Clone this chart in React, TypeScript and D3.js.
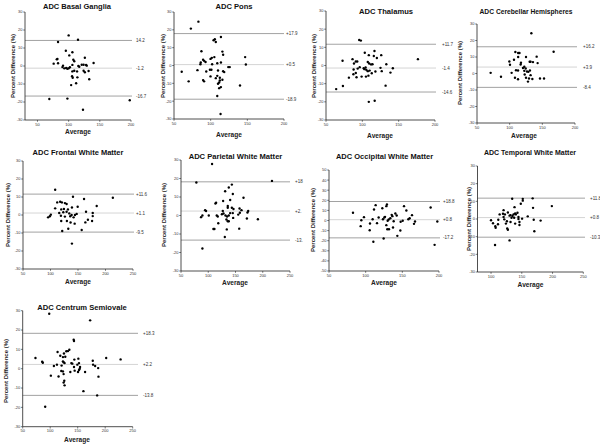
import React from "react";
import * as d3 from "d3";

// ---------- DATA ----------
const basalAvg = [100, 115, 83, 95.5, 106, 101, 81, 82, 126, 107.5, 109, 76, 83, 140, 121, 124, 128, 129, 91, 90, 93, 96, 98, 100, 102, 106, 115.5, 117, 109, 106, 113.5, 124, 126, 132, 105.5, 106.5, 114, 133, 112, 104, 69, 98, 198, 123];
const basalDiff = [17, 14.6, 13.3, 8.5, 7.6, 5.9, 3.7, 3.9, 4.6, 3.5, 2.6, 1.3, 1.5, 1.7, 0.7, 0.7, 0.6, 0.2, 0.2, -0.6, -1.3, -1.1, -1.5, -1.3, -0.7, 0.6, 0, -0.4, -2.6, -3, -3, -2.6, -3.5, -2.8, -5.7, -6.5, -6.3, -7.4, -9.6, -10.6, -18.3, -18.1, -19, -24.3];
const basalLines = [14.2, -1.2, -16.7];
const basalLabels = ["14.2", "-1.2", "-16.7"];

const ponsAvg = [83.3, 73, 105.7, 104, 107, 114, 87.4, 116, 117, 101.6, 99.8, 105, 89.7, 91, 93, 86.5, 86, 102, 109, 114, 147, 148, 124, 126, 118.5, 117, 110, 101, 99, 82, 94, 60.5, 99.8, 107, 112.5, 109, 89.7, 91, 70, 111.6, 110, 111.6, 114, 140, 109, 113.5, 116, 112.5];
const ponsDiff = [24.6, 20.7, 14.7, 14.2, 13.2, 16, 8, 7.8, 6, 4.3, 3.7, 4.7, 3.2, 2.6, 2, 1.7, 0.7, 0.7, 1.3, 1.7, 4.7, 0.6, -0.9, -0.9, -3.7, -3.2, -2.8, -2.4, -2.4, -2.6, -3.4, -3.5, -6.1, -7.1, -6.9, -5.8, -8.2, -8.9, -8.9, -9.5, -10.2, -12.7, -12.1, -11.2, -17.1, -27.2, -8, -8.4];
const ponsLines = [17.9, 0.5, -18.9];
const ponsLabels = ["+17.9", "+0.5", "-18.9"];

const thalAvg = [95.7, 98, 103.4, 116.7, 108.9, 115.8, 126, 120, 72.8, 86.5, 91, 93, 107.5, 109.4, 112, 114, 133, 176.5, 88.5, 88, 93.6, 96.4, 101.9, 103, 105.5, 104.5, 107.5, 110, 113, 118, 125, 142, 126.7, 138.7, 87.7, 91, 81.5, 92, 99, 105, 108.4, 73.3, 64, 132, 108.9, 117];
const thalDiff = [14, 13.7, 7, 8, 5.7, 5.2, 5.7, 4.1, 2.6, 3.5, 2.2, 2.2, 1.9, 1.1, 0.6, 0.7, 0.7, 3.5, 1.1, -2.2, -1.7, -0.9, -1.5, -2, -2.4, -1.1, -3.1, -2.8, -4.3, -3.3, -1.3, -1.5, -3.1, -3.9, -4.8, -4.1, -6.7, -6.5, -6.1, -6.1, -5.6, -11.3, -13, -11.1, -20, -19.4];
const thalLines = [11.7, -1.4, -14.6];
const thalLabels = ["+11.7", "-1.4", "-14.6"];

const cereAvg = [133.2, 167.3, 108.7, 113, 115, 125, 141.3, 106.6, 113, 99.5, 100.5, 117.3, 116.8, 130.6, 132, 135.7, 142.8, 122.4, 120.4, 124.5, 112.8, 109.7, 131, 126.5, 122.4, 128.6, 70.9, 103, 123, 132, 86.7, 108.1, 112.8, 125, 129.6, 134.7, 146.4, 152.6, 128];
const cereDiff = [24.4, 13.2, 13, 12.4, 12.4, 10, 10.2, 8.3, 10, 7.3, 5.3, 6.5, 5.5, 7.1, 7.1, 6.9, 6.3, 4.1, 3.3, 3, 1.8, 2, 1.8, 1.2, 1.6, 1, 0.4, 0.4, -0.6, -1, -2, -2.6, -3.5, -2.6, -3, -3.3, -3, -3, -4.9];
const cereLines = [16.2, 3.9, -8.4];
const cereLabels = ["+16.2", "+3.9", "-8.4"];

const frontAvg = [108.5, 213.4, 140.9, 161, 184, 112.2, 117.6, 120.7, 126.2, 129.3, 108.5, 119.5, 124.4, 131.7, 139, 149.4, 115.9, 123.2, 129.3, 134.1, 138.4, 144.5, 147.6, 164.6, 176.8, 118.9, 126.2, 135.9, 142, 98.8, 100.6, 95.6, 176.8, 119.5, 129.8, 136.5, 143.9, 168, 175.6, 163.4, 132.3, 156.7, 121.3, 139];
const frontDiff = [14, 9.6, 10.1, 8.9, 5, 7, 7.4, 7, 6.6, 6.1, 3.7, 3.1, 3.3, 3.1, 4.2, 4.6, 1.1, 1.5, 1.8, 0.9, 0, 0, 0.6, 1.8, 1.1, -0.4, -0.9, -0.7, -1.3, -0.7, 0.2, -1.3, -0.6, -3.3, -3.3, -4.2, -4.8, -2.6, -3.3, -4.1, -7.6, -8.3, -8.9, -15.9];
const frontLines = [11.6, 1.1, -9.5];
const frontLabels = ["+11.6", "+1.1", "-9.5"];

const parAvg = [107, 78.2, 216.9, 143.3, 137.7, 131, 145.1, 164.7, 140.2, 113.2, 114.4, 127.3, 135.8, 135.8, 143.3, 146.3, 157.4, 161, 173.3, 172, 158, 155, 94.2, 96, 126.7, 128, 125, 140.2, 145, 101, 115.6, 117.5, 131.6, 134.6, 137.7, 89.3, 86.8, 145.7, 118.4, 170.9, 191.1, 135.8, 137.7, 133.4, 109.5, 111.3, 156.8, 134, 130.4, 89.3];
const parDiff = [27.8, 17.8, 18.7, 16.7, 15.1, 13.1, 11.6, 9.6, 8.4, 6.5, 6.9, 7.8, 5.1, 4.2, 4.2, 3.5, 3.8, 2.9, 2.4, 1.6, 1.5, 0.5, 2.9, 2.4, 2.4, 1.1, 0.7, 1.3, 1.3, 0, 0, -0.5, 0, -0.5, 0, 0, -0.9, -1.3, -4.2, -1.6, -2, -3.1, -3.1, -2.2, -7.3, -7.3, -7.1, -7.5, -11.6, -17.8];
const parLines = [18.2, 2.4, -13.3];
const parLabels = ["+18", "+2.", "-13."];

const occAvg = [82.7, 113.6, 128.2, 129, 111.4, 122.7, 152.3, 155.5, 188.6, 140.5, 135.5, 136.4, 142.3, 160, 158.2, 163.2, 133.6, 126.4, 125.5, 117.7, 97.7, 131.4, 123.6, 130, 138.2, 94.1, 109.5, 150.5, 167.3, 165.9, 197.7, 115.5, 105.9, 93.2, 128.2, 137.3, 131.8, 129.5, 147.3, 105.5, 143.2, 124.5, 110.5, 194, 147.7];
const occDiff = [7.6, 15.2, 14.2, 15.8, 10.9, 12.2, 14.2, 9.9, 12.9, 6.9, 5.6, 4.3, 5, 2.3, 1.3, 5.3, 2.3, 3.6, 3, 3, 3.3, 1, 1.3, -0.3, -0.7, 0.3, 1.3, -0.3, -1, -3.3, -1, -2.6, -3, -5.6, -4.6, -6.9, -8.6, -8.6, -9.9, -9.6, -15.2, -17.8, -21.1, -24.1, -1.3];
const occLines = [18.8, 0.8, -17.2];
const occLabels = ["+18.8", "+0.8", "-17.2"];

const tempAvg = [106.5, 130.1, 100, 103.2, 111.8, 107, 107.5, 111.3, 114, 119.4, 120.4, 122.6, 120.4, 121.5, 125.8, 126.3, 127.4, 124.2, 131.7, 127.4, 130.1, 131.7, 134.9, 133.3, 137.6, 136.6, 139.2, 140.3, 143, 144.6, 144.6, 139.2, 146.2, 146.2, 138.2, 134.4, 150.5, 148.4, 151.6, 151.6, 159.7, 167.7, 168.3, 169.4, 170.4, 180.6, 198.9];
const tempDiff = [-14.7, -12.1, -0.7, -2.4, -0.4, -4.1, -5, -3, 2.6, 3, 5, 2.6, 1.1, -0.2, -1.3, -5.4, -6.1, -2.6, -1.7, 3.7, 1.9, 2.2, 1.7, 0.7, 0.7, 2.6, 3.2, 2.6, 3.5, 1.1, 0, -2.6, -1.7, -3.4, 6.7, 11.5, 0.2, 8.6, 11.4, 10.4, 1.5, 11.7, 6.3, -0.4, -6.9, -0.9, 7.3];
const tempLines = [11.8, 0.8, -10.3];
const tempLabels = ["+11.8", "+0.8", "-10.3"];

const centAvg = [98.2, 172.6, 142.7, 143.3, 134.8, 132.3, 129.3, 113.4, 125, 118.3, 127.4, 123.2, 73.2, 85.4, 86.6, 123.2, 124.4, 126.2, 138.4, 151.2, 152.4, 149.4, 140.2, 143.9, 177.4, 178, 181.7, 187.2, 201.8, 228, 106.7, 112.2, 120.7, 143.3, 154.3, 153.7, 152.4, 150.6, 144.5, 136.6, 123.2, 120.1, 124.4, 163.4, 187.8, 101.2, 115.2, 125.6, 124.4, 126.2, 160.4, 185.4, 90.9];
const centDiff = [28.4, 25, 15, 14.3, 9.8, 9.1, 9, 8.6, 7.9, 6.7, 6.2, 6, 5.5, 3.6, 3.1, 3.8, 3.3, 2.9, 2.9, 5.2, 2.9, 2.1, 2.6, 4.7, 4.1, 2.1, 1.4, 0.3, 5.5, 4.8, 1.4, 2.1, 1.6, 0.9, 0.9, 0, -0.7, -1.7, -1, -1.7, -1.4, -1.2, -2.8, -1.7, -4.1, -3.6, -4, -6.2, -7.2, -8.6, -11.6, -13.8, -19.7];
const centLines = [18.3, 2.2, -13.8];
const centLabels = ["+18.3", "+2.2", "-13.8"];

const ticksX4 = [50, 100, 150, 200];
const ticksX5 = [50, 100, 150, 200, 250];
const ticksTemp = [100, 150, 200, 250];
const ticksY30 = [30, 20, 10, 0, -10, -20, -30];
const ticksY50 = [50, 40, 30, 20, 10, 0, -10, -20, -30, -40, -50];

// ---------- LAYOUT ----------
type P = {
  title: string; tx: number; ty: number; ts: number;
  xr: [number, number]; xd: [number, number]; xt: number[];
  yr: [number, number]; yd: [number, number]; yt: number[];
  lines: number[]; labels: string[]; lx: number; lend: number;
  ylx: number; yly: number; axY: number; axX: number;
  avg: number[]; diff: number[];
};

const panels: P[] = [
  { title: "ADC Basal Ganglia", tx: 77, ty: 8.5, ts: 7.5, xr: [25, 131], xd: [30, 200], xt: ticksX4, yr: [12, 120], yd: [30, -30], yt: ticksY30, lines: basalLines, labels: basalLabels, lx: 136, lend: 132, ylx: 13, yly: 66, axX: 78, axY: 134, avg: basalAvg, diff: basalDiff },
  { title: "ADC Pons", tx: 234, ty: 8.5, ts: 7.6, xr: [174, 284], xd: [50, 200], xt: ticksX4, yr: [12, 119], yd: [30, -30], yt: ticksY30, lines: ponsLines, labels: ponsLabels, lx: 286, lend: 284, ylx: 163, yly: 66, axX: 229, axY: 136.5, avg: ponsAvg, diff: ponsDiff },
  { title: "ADC Thalamus", tx: 386, ty: 13.5, ts: 7.6, xr: [326, 435], xd: [50, 200], xt: ticksX4, yr: [11, 120], yd: [30, -30], yt: ticksY30, lines: thalLines, labels: thalLabels, lx: 442, lend: 436, ylx: 314, yly: 66, axX: 380, axY: 137.5, avg: thalAvg, diff: thalDiff },
  { title: "ADC Cerebellar Hemispheres", tx: 526, ty: 13.5, ts: 6.7, xr: [477, 575], xd: [50, 200], xt: ticksX4, yr: [24, 123], yd: [30, -30], yt: ticksY30, lines: cereLines, labels: cereLabels, lx: 583, lend: 577, ylx: 460, yly: 73, axX: 524, axY: 137.5, avg: cereAvg, diff: cereDiff },
  { title: "ADC Frontal White Matter", tx: 78, ty: 154.5, ts: 7.5, xr: [23, 133], xd: [50, 250], xt: ticksX5, yr: [161, 269], yd: [30, -30], yt: ticksY30, lines: frontLines, labels: frontLabels, lx: 136, lend: 134, ylx: 8, yly: 215, axX: 78, axY: 283.5, avg: frontAvg, diff: frontDiff },
  { title: "ADC Parietal White Matter", tx: 235.5, ty: 158.5, ts: 7.6, xr: [181, 290], xd: [50, 250], xt: ticksX5, yr: [160, 271], yd: [30, -30], yt: ticksY30, lines: parLines, labels: parLabels, lx: 295, lend: 290, ylx: 164, yly: 215, axX: 235, axY: 285, avg: parAvg, diff: parDiff },
  { title: "ADC Occipital White Matter", tx: 384.5, ty: 158.5, ts: 7.5, xr: [329, 439], xd: [50, 200], xt: ticksX4, yr: [170, 271], yd: [50, -50], yt: ticksY50, lines: occLines, labels: occLabels, lx: 443, lend: 440, ylx: 312.5, yly: 220, axX: 384, axY: 284.5, avg: occAvg, diff: occDiff },
  { title: "ADC Temporal White Matter", tx: 530, ty: 155, ts: 7.0, xr: [477.5, 583.3], xd: [78, 250], xt: ticksTemp, yr: [166, 272], yd: [30, -30], yt: ticksY30, lines: tempLines, labels: tempLabels, lx: 590, lend: 585, ylx: 469, yly: 219, axX: 530.5, axY: 287, avg: tempAvg, diff: tempDiff },
  { title: "ADC Centrum Semiovale", tx: 82, ty: 309.5, ts: 7.6, xr: [22.7, 132.7], xd: [50, 250], xt: ticksX5, yr: [310.7, 426.7], yd: [30, -30], yt: ticksY30, lines: centLines, labels: centLabels, lx: 143, lend: 138, ylx: 5.5, yly: 371, axX: 77, axY: 442, avg: centAvg, diff: centDiff },
];

const FONT = "'Liberation Sans', Arial, sans-serif";

function Panel({ p }: { p: P }) {
  const x = d3.scaleLinear().domain(p.xd).range(p.xr);
  const y = d3.scaleLinear().domain(p.yd).range(p.yr);
  const x0 = p.xr[0];
  const yb = p.yr[1];
  return (
    <g>
      <text x={p.tx} y={p.ty} textAnchor="middle" fontSize={p.ts} fontWeight="bold" fill="#111">{p.title}</text>
      {p.lines.map((v, i) => (
        <g key={"l" + i}>
          <line x1={x0} x2={p.lend} y1={y(v)} y2={y(v)}
            stroke={i === 1 ? "#cfcfcf" : "#8a8a8a"} strokeWidth={i === 1 ? 0.9 : 0.8} />
          <text x={p.lx} y={y(v) + 1.6} fontSize={4.5} fill="#333">{p.labels[i]}</text>
        </g>
      ))}
      <line x1={x0} x2={x0} y1={p.yr[0]} y2={yb} stroke="#222" strokeWidth={0.8} />
      <line x1={x0} x2={p.xr[1]} y1={yb} y2={yb} stroke="#222" strokeWidth={0.8} />
      {p.yt.map((t) => (
        <g key={"yt" + t}>
          <line x1={x0 - 1.8} x2={x0} y1={y(t)} y2={y(t)} stroke="#222" strokeWidth={0.6} />
          <text x={x0 - 2.5} y={y(t) + 1.4} fontSize={4} textAnchor="end" fill="#333">{t}</text>
        </g>
      ))}
      {p.xt.map((t) => (
        <g key={"xt" + t}>
          <line x1={x(t)} x2={x(t)} y1={yb} y2={yb + 1.8} stroke="#222" strokeWidth={0.6} />
          <text x={x(t)} y={yb + 5.7} fontSize={4} textAnchor="middle" fill="#333">{t}</text>
        </g>
      ))}
      <text x={p.axX} y={p.axY} textAnchor="middle" fontSize={6.6} fontWeight="bold" fill="#222">Average</text>
      <text transform={`translate(${p.ylx},${p.yly}) rotate(-90)`} y={2} textAnchor="middle" fontSize={6} fontWeight="bold" fill="#222">Percent Difference (%)</text>
      {p.avg.map((a, i) => (
        <circle key={"d" + i} cx={x(a)} cy={y(p.diff[i])} r={1.2} fill="#000" />
      ))}
    </g>
  );
}

export default function App() {
  return (
    <svg width={600} height={445} viewBox="0 0 600 445"
      style={{ position: "absolute", left: 0, top: 0, background: "#fff", fontFamily: FONT }}>
      <rect width={600} height={445} fill="#fff" />
      {panels.map((p, i) => <Panel key={i} p={p} />)}
    </svg>
  );
}
